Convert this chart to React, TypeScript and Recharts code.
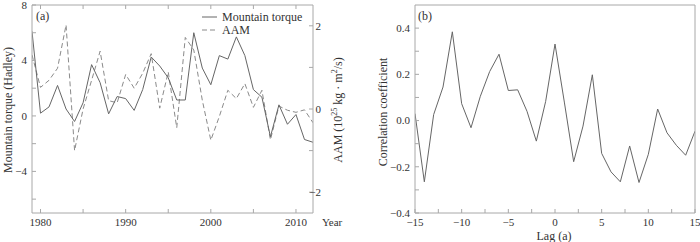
import React from 'react';
import { LineChart, Line, XAxis, YAxis } from 'recharts';

// ---------- data ----------
const years = [1979, 1980, 1981, 1982, 1983, 1984, 1985, 1986, 1987, 1988, 1989, 1990, 1991, 1992, 1993, 1994, 1995, 1996, 1997, 1998, 1999, 2000, 2001, 2002, 2003, 2004, 2005, 2006, 2007, 2008, 2009, 2010, 2011, 2012];
const torque = [6.1, 0.2, 0.65, 2.2, 0.5, -0.4, 0.95, 3.7, 2.4, 0.15, 1.4, 1.25, 0.4, 1.9, 4.25, 3.6, 2.75, 1.15, 1.15, 6.0, 3.45, 2.25, 4.35, 4.1, 5.7, 4.35, 1.9, 1.35, -1.5, 0.8, -0.6, 0.1, -1.7, -1.9];
const aam = [1.3, 0.52, 0.69, 0.98, 2.02, -1.0, 0.0, 0.69, 1.39, 0.2, 0.15, 0.83, 0.5, 0.86, 1.33, 0.02, 0.89, -0.45, 1.72, 1.42, 0.21, -0.75, -0.18, 0.45, 0.25, 0.61, 0.04, 0.45, -0.74, 0.07, -0.03, -0.08, -0.02, -0.33];

const lags = [-15, -14, -13, -12, -11, -10, -9, -8, -7, -6, -5, -4, -3, -2, -1, 0, 1, 2, 3, 4, 5, 6, 7, 8, 9, 10, 11, 12, 13, 14, 15];
const corr = [0.03, -0.265, 0.026, 0.145, 0.384, 0.073, -0.031, 0.105, 0.212, 0.287, 0.13, 0.133, 0.04, -0.089, 0.083, 0.331, 0.08, -0.178, -0.024, 0.198, -0.142, -0.222, -0.265, -0.11, -0.268, -0.146, 0.05, -0.053, -0.107, -0.15, -0.046];

const yearTicks = [1980, 1985, 1990, 1995, 2000, 2005, 2010];
const yearLabels = [1980, 1990, 2000, 2010];
const torqueTicks = [-6, -4, -2, 0, 2, 4, 6, 8];
const torqueLabels = [-4, 0, 4, 8];
const aamTicks = [-2, -1, 0, 1, 2];
const aamLabels = [-2, 0, 2];
const lagTicks = [-15, -12.5, -10, -7.5, -5, -2.5, 0, 2.5, 5, 7.5, 10, 12.5, 15];
const lagLabels = [-15, -10, -5, 0, 5, 10, 15];
const corrTicks = [-0.4, -0.3, -0.2, -0.1, 0, 0.1, 0.2, 0.3, 0.4];
const corrLabels = [-0.4, -0.2, 0, 0.2, 0.4];

const dataA = years.map((y, i) => ({ year: y, torque: torque[i], aam: aam[i] }));
const dataB = lags.map((l, i) => ({ lag: l, corr: corr[i] }));

// ---------- style ----------
const FONT = "'Liberation Serif', 'DejaVu Serif', serif";
const AXIS = '#a8a8a8';
const TEXT = '#333';
const LINE = '#666';
const DASH = '#8a8a8a';
const TICK_FS = 11;
const tickText: React.CSSProperties = { fontFamily: FONT, fontSize: TICK_FS };

const has = (arr: number[], v: number) => arr.some((a) => Math.abs(a - v) < 1e-6);
const fmt = (v: number, digits: number) => {
  const s = Math.abs(v).toFixed(digits);
  return v < -1e-9 ? '\u2212' + s : s;
};

const makeTick = (side: 'bottom' | 'top' | 'left' | 'right', labels: number[] | null, digits: number, labelOffset = 5) => (p: any) => {
  const { x, y, payload } = p;
  const v = payload.value;
  const show = labels ? has(labels, v) : false;
  const len = 4;
  let line;
  let text = null;
  if (side === 'bottom') {
    line = <line x1={x} y1={y} x2={x} y2={y - len} stroke={AXIS} />;
    if (show) text = <text x={x} y={y + 13} textAnchor="middle" style={tickText} fill={TEXT}>{fmt(v, digits)}</text>;
  } else if (side === 'top') {
    line = <line x1={x} y1={y} x2={x} y2={y + len} stroke={AXIS} />;
  } else if (side === 'left') {
    line = <line x1={x} y1={y} x2={x + len} y2={y} stroke={AXIS} />;
    if (show) text = <text x={x - labelOffset} y={y} dy="0.35em" textAnchor="end" style={tickText} fill={TEXT}>{fmt(v, digits)}</text>;
  } else {
    line = <line x1={x} y1={y} x2={x - len} y2={y} stroke={AXIS} />;
    if (show) text = <text x={x + 8} y={y} dy="0.35em" textAnchor="end" style={tickText} fill={TEXT}>{fmt(v, digits)}</text>;
  }
  return <g>{line}{text}</g>;
};

const abs = (left: number, top: number, extra: React.CSSProperties = {}): React.CSSProperties => ({
  position: 'absolute', left, top, fontFamily: FONT, color: TEXT, whiteSpace: 'nowrap', lineHeight: 1, ...extra,
});

const VLabel = ({ cx, cy, children, size = 12 }: { cx: number; cy: number; children: React.ReactNode; size?: number }) => (
  <div style={abs(cx, cy, { fontSize: size, transform: 'translate(-50%, -50%) rotate(-90deg)' })}>{children}</div>
);

export default function App() {
  return (
    <div style={{ position: 'absolute', left: 0, top: 0, width: 700, height: 242, background: '#fff', overflow: 'hidden', fontFamily: FONT }}>
      {/* Panel (a) */}
      <div style={{ position: 'absolute', left: 0, top: 0 }}>
        <LineChart width={350} height={242} data={dataA} margin={{ top: 4, left: 31, right: 36, bottom: 28 }} style={{ fontFamily: FONT }}>
          <XAxis dataKey="year" type="number" domain={[1979, 2012]} ticks={yearTicks} interval={0} allowDataOverflow
            height={1} tickSize={0} tickMargin={0} tickLine={false} axisLine={{ stroke: AXIS }}
            tick={makeTick('bottom', yearLabels, 0)} />
          <XAxis xAxisId="top" orientation="top" dataKey="year" type="number" domain={[1979, 2012]} ticks={yearTicks} interval={0} allowDataOverflow
            height={1} tickSize={0} tickMargin={0} tickLine={false} axisLine={{ stroke: AXIS }}
            tick={makeTick('top', null, 0)} />
          <YAxis yAxisId="left" type="number" domain={[-7, 8]} ticks={torqueTicks} interval={0} allowDataOverflow
            width={1} tickSize={0} tickMargin={0} tickLine={false} axisLine={{ stroke: AXIS }}
            tick={makeTick('left', torqueLabels, 0)} />
          <YAxis yAxisId="right" orientation="right" type="number" domain={[-2.5, 2.5]} ticks={aamTicks} interval={0} allowDataOverflow
            width={1} tickSize={0} tickMargin={0} tickLine={false} axisLine={{ stroke: AXIS }}
            tick={makeTick('right', aamLabels, 0)} />
          <Line yAxisId="right" dataKey="aam" stroke={DASH} strokeWidth={1} strokeDasharray="5 3" dot={false} isAnimationActive={false} />
          <Line yAxisId="left" dataKey="torque" stroke={LINE} strokeWidth={1} dot={false} isAnimationActive={false} />
        </LineChart>
      </div>

      {/* Panel (b) */}
      <div style={{ position: 'absolute', left: 350, top: 0 }}>
        <LineChart width={350} height={242} data={dataB} margin={{ top: 4, left: 64, right: 4, bottom: 28 }} style={{ fontFamily: FONT }}>
          <XAxis dataKey="lag" type="number" domain={[-15, 15]} ticks={lagTicks} interval={0} allowDataOverflow
            height={1} tickSize={0} tickMargin={0} tickLine={false} axisLine={{ stroke: AXIS }}
            tick={makeTick('bottom', lagLabels, 0)} />
          <XAxis xAxisId="top" orientation="top" dataKey="lag" type="number" domain={[-15, 15]} ticks={lagTicks} interval={0} allowDataOverflow
            height={1} tickSize={0} tickMargin={0} tickLine={false} axisLine={{ stroke: AXIS }}
            tick={() => <g />} />
          <YAxis type="number" domain={[-0.4, 0.5]} ticks={corrTicks} interval={0} allowDataOverflow
            width={1} tickSize={0} tickMargin={0} tickLine={false} axisLine={{ stroke: AXIS }}
            tick={makeTick('left', corrLabels, 1)} />
          <YAxis yAxisId="right" orientation="right" type="number" domain={[-0.4, 0.5]} ticks={corrTicks} interval={0} allowDataOverflow
            width={1} tickSize={0} tickMargin={0} tickLine={false} axisLine={{ stroke: AXIS }}
            tick={() => <g />} />
          <Line dataKey="corr" stroke={LINE} strokeWidth={1} dot={false} isAnimationActive={false} />
        </LineChart>
      </div>

      {/* Text overlays */}
      <div style={abs(36, 10, { fontSize: 12 })}>(a)</div>
      <div style={abs(418, 10, { fontSize: 12 })}>(b)</div>

      <VLabel cx={8} cy={110}>Mountain torque (Hadley)</VLabel>
      <VLabel cx={337} cy={110}>AAM (10<sup style={{ fontSize: 8 }}>25</sup> kg · m<sup style={{ fontSize: 8 }}>2</sup>/s)</VLabel>
      <VLabel cx={383} cy={112}>Correlation coefficient</VLabel>

      <div style={abs(322, 217, { fontSize: TICK_FS })}>Year</div>
      <div style={abs(554, 230, { fontSize: 12, transform: 'translateX(-50%)' })}>Lag (a)</div>

      {/* Legend */}
      <div style={abs(202, 10, { fontSize: 12 })}>
        <div style={{ display: 'flex', alignItems: 'center', height: 13 }}>
          <svg width={16} height={6}><line x1={0} y1={3} x2={15} y2={3} stroke={LINE} /></svg>
          <span style={{ marginLeft: 4 }}>Mountain torque</span>
        </div>
        <div style={{ display: 'flex', alignItems: 'center', height: 13 }}>
          <svg width={16} height={6}><line x1={0} y1={3} x2={15} y2={3} stroke={DASH} strokeDasharray="5 3" /></svg>
          <span style={{ marginLeft: 4 }}>AAM</span>
        </div>
      </div>
    </div>
  );
}
